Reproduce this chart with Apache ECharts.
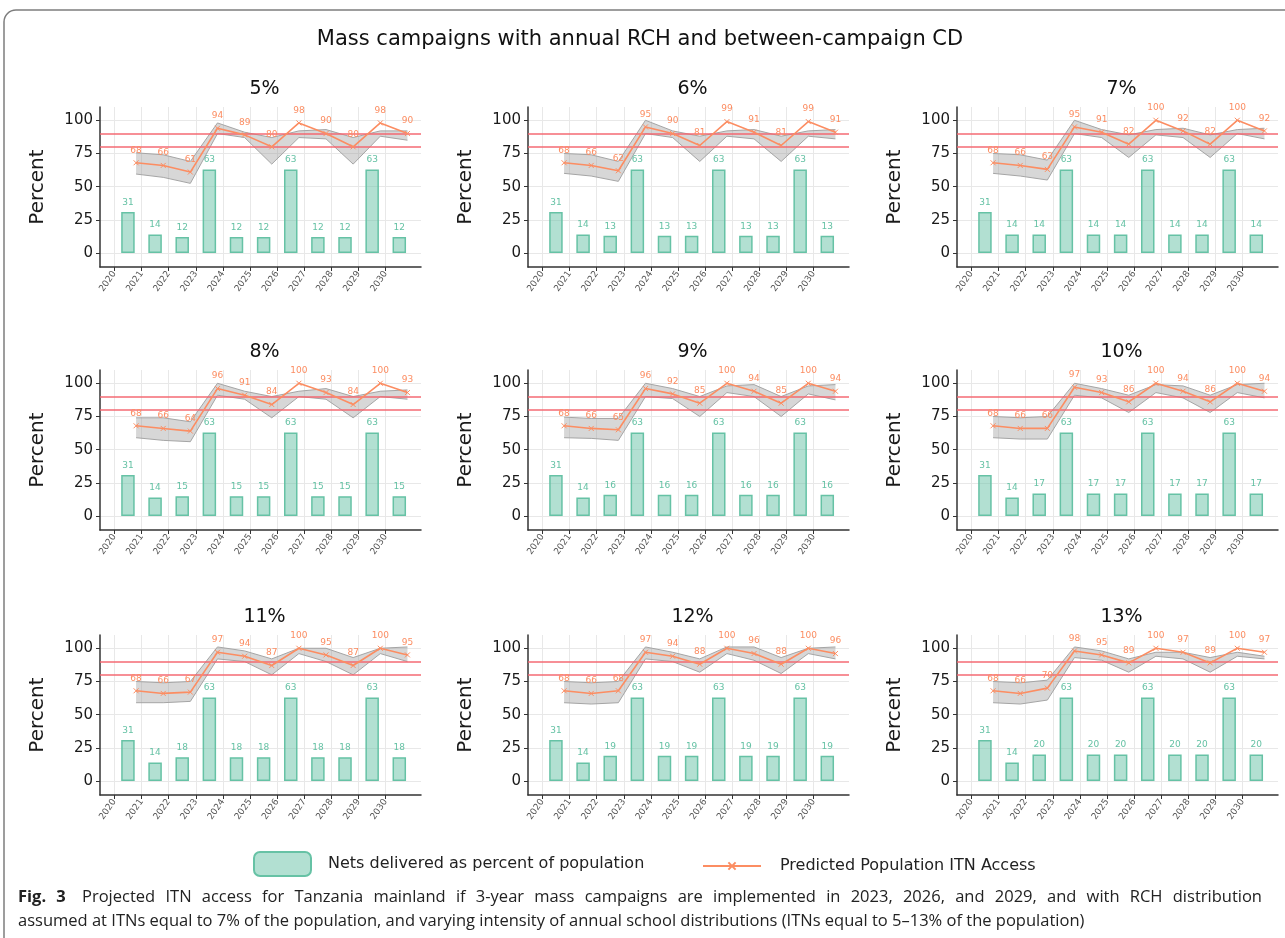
<!DOCTYPE html>
<html>
<head>
<meta charset="utf-8">
<title>Projected ITN access - Tanzania mainland</title>
<script src="https://cdn.jsdelivr.net/npm/echarts@6/dist/echarts.min.js"></script>
<style>
  html, body { margin: 0; padding: 0; background: #fff; }
  #wrap { position: relative; width: 1285px; height: 938px; }
  #chart { width: 1285px; height: 938px; }
  #caption {
    position: absolute; left: 18px; top: 884px; width: 1244px;
    font-family: "Open Sans", sans-serif; font-size: 16.5px; line-height: 24px; color: #222;
  }
  #caption .first { text-align: justify; text-align-last: justify; white-space: nowrap; }
  #caption b { margin-right: 6px; }
</style>
</head>
<body>
<div id="wrap">
  <div id="chart"></div>
  <div id="caption">
    <div class="first"><b>Fig. 3</b> Projected ITN access for Tanzania mainland if 3-year mass campaigns are implemented in 2023, 2026, and 2029, and with RCH distribution</div>
    <div>assumed at ITNs equal to 7% of the population, and varying intensity of annual school distributions (ITNs equal to 5–13% of the population)</div>
  </div>
</div>
<script>
// panel labels (annual school distribution intensity)
const panelNames = ['5%', '6%', '7%', '8%', '9%', '10%', '11%', '12%', '13%'];
const yearTicks = [2020, 2021, 2022, 2023, 2024, 2025, 2026, 2027, 2028, 2029, 2030];
const percentTicks = [0, 25, 50, 75, 100];
const targetLevels = [80, 90];

// x positions (in years) of the bars and of the access estimates
const netsX = [2020.5, 2021.5, 2022.5, 2023.5, 2024.5, 2025.5, 2026.5, 2027.5, 2028.5, 2029.5, 2030.5];
const accessX = [2020.8, 2021.8, 2022.8, 2023.8, 2024.8, 2025.8, 2026.8, 2027.8, 2028.8, 2029.8, 2030.8];

// nets delivered as percent of population, one row per panel
const netsDelivered = [
  [31, 14, 12, 63, 12, 12, 63, 12, 12, 63, 12],
  [31, 14, 13, 63, 13, 13, 63, 13, 13, 63, 13],
  [31, 14, 14, 63, 14, 14, 63, 14, 14, 63, 14],
  [31, 14, 15, 63, 15, 15, 63, 15, 15, 63, 15],
  [31, 14, 16, 63, 16, 16, 63, 16, 16, 63, 16],
  [31, 14, 17, 63, 17, 17, 63, 17, 17, 63, 17],
  [31, 14, 18, 63, 18, 18, 63, 18, 18, 63, 18],
  [31, 14, 19, 63, 19, 19, 63, 19, 19, 63, 19],
  [31, 14, 20, 63, 20, 20, 63, 20, 20, 63, 20]
];

// predicted population ITN access
const itnAccess = [
  [68, 66, 61, 94, 89, 80, 98, 90, 80, 98, 90],
  [68, 66, 62, 95, 90, 81, 99, 91, 81, 99, 91],
  [68, 66, 63, 95, 91, 82, 100, 92, 82, 100, 92],
  [68, 66, 64, 96, 91, 84, 100, 93, 84, 100, 93],
  [68, 66, 65, 96, 92, 85, 100, 94, 85, 100, 94],
  [68, 66, 66, 97, 93, 86, 100, 94, 86, 100, 94],
  [68, 66, 67, 97, 94, 87, 100, 95, 87, 100, 95],
  [68, 66, 68, 97, 94, 88, 100, 96, 88, 100, 96],
  [68, 66, 70, 98, 95, 89, 100, 97, 89, 100, 97]
];

// uncertainty band (lower / upper)
const accessLow = [
  [59.5, 57, 52.5, 90, 87, 67, 87, 86, 67, 88, 85],
  [60, 58, 54, 90, 87, 69, 88, 86, 69, 88, 86],
  [60, 58, 55, 90, 87, 72, 89, 87, 72, 90, 86],
  [59, 57, 56, 91, 88, 74, 90, 88, 74, 90, 88],
  [59, 58.5, 57, 90, 88.5, 75, 93, 90, 75, 92, 87.5],
  [59, 58, 58, 91, 89, 78, 93, 89, 78, 93, 89],
  [59, 59, 60, 92, 90, 80, 96, 90, 80, 96, 90],
  [59, 58, 59, 92, 90, 82, 96, 91, 81, 96, 92],
  [59, 58, 61, 93, 91, 82, 94, 92, 82, 94, 92]
];
const accessHigh = [
  [75.5, 74, 69, 98, 91, 87, 92, 93, 87, 92, 92],
  [75, 74, 69, 100, 92, 88, 92, 93, 88, 92, 93],
  [75, 74, 70, 100, 93, 89, 93, 94, 89, 93, 94],
  [74, 74, 71, 100, 94, 90, 94, 96, 90, 94, 95],
  [74.5, 73.5, 73.5, 100, 96, 90, 98, 99, 90, 98, 99],
  [75, 74, 75, 100, 96, 91, 99, 98, 91, 99, 100],
  [75, 74, 75, 101, 98, 92, 100, 100, 93, 100, 101],
  [75, 74, 75, 101, 97, 92, 101, 101, 93, 100, 101],
  [75, 74, 76, 101, 98, 92, 97, 97, 93, 97, 94]
];

const NETS_NAME = 'Nets delivered as percent of population';
const ACCESS_NAME = 'Predicted Population ITN Access';
const GREEN = '#66c2a5';
const ORANGE = '#fc8d62';
const FONT = 'DejaVu Sans';

const colLeft = [100, 528, 957];
const rowTop = [107, 370, 635];
const plotW = 321;
const plotH = 160;

const grid = [];
const xAxis = [];
const yAxis = [];
const series = [];
const graphic = [];

panelNames.forEach((name, i) => {
  const r = Math.floor(i / 3);
  const c = i % 3;

  grid.push({
    left: colLeft[c], top: rowTop[r], width: plotW, height: plotH,
    containLabel: false, outerBoundsMode: 'none'
  });

  xAxis.push({
    gridIndex: i,
    type: 'value',
    min: 2019.47,
    max: 2031.3,
    axisLine: { show: true, onZero: false, lineStyle: { color: '#333', width: 1.5 } },
    axisTick: { show: true, customValues: yearTicks, length: 4, lineStyle: { color: '#333' } },
    axisLabel: {
      customValues: yearTicks, rotate: 55, fontSize: 9, color: '#555', margin: 5,
      fontFamily: FONT, formatter: v => String(v)
    },
    splitLine: { show: true, lineStyle: { color: '#e8e8e8' } }
  });

  yAxis.push({
    gridIndex: i,
    type: 'value',
    min: -10.5,
    max: 110,
    name: 'Percent',
    nameLocation: 'middle',
    nameGap: 52,
    nameTextStyle: { fontSize: 20, color: '#1a1a1a', fontFamily: FONT },
    axisLine: { show: true, lineStyle: { color: '#333', width: 1.5 } },
    axisTick: { show: true, customValues: percentTicks, length: 4, lineStyle: { color: '#333' } },
    axisLabel: { customValues: percentTicks, fontSize: 15, color: '#1a1a1a', margin: 7, fontFamily: FONT },
    splitLine: { show: true, lineStyle: { color: '#e8e8e8' } }
  });

  series.push({
    name: NETS_NAME,
    type: 'bar',
    xAxisIndex: i, yAxisIndex: i,
    data: netsX.map((x, k) => [x, netsDelivered[i][k]]),
    barWidth: 13.5,
    itemStyle: { color: 'rgba(102,194,165,0.5)', borderColor: GREEN, borderWidth: 1.5 },
    label: { show: true, position: 'top', distance: 5, color: GREEN, fontSize: 9, fontFamily: FONT },
    z: 1,
    markLine: {
      silent: true,
      symbol: 'none',
      label: { show: false },
      lineStyle: { color: 'rgba(244,100,110,0.72)', width: 2, type: 'solid' },
      data: targetLevels.map(v => ({ yAxis: v }))
    }
  });

  // grey uncertainty band drawn as one polygon through the axis scales
  series.push({
    name: 'band-' + i,
    type: 'custom',
    xAxisIndex: i, yAxisIndex: i,
    silent: true,
    z: 2,
    data: accessX.map((x, k) => [x, accessLow[i][k], accessHigh[i][k]]),
    encode: { x: 0, y: [1, 2] },
    renderItem: (params, api) => {
      if (params.dataIndex !== 0) return null;
      const lowPts = accessX.map((x, k) => api.coord([x, accessLow[i][k]]));
      const highPts = accessX.map((x, k) => api.coord([x, accessHigh[i][k]]));
      return {
        type: 'group',
        children: [
          {
            type: 'polygon',
            shape: { points: lowPts.concat(highPts.slice().reverse()) },
            style: { fill: 'rgba(150,150,150,0.38)', stroke: null }
          },
          { type: 'polyline', shape: { points: lowPts }, style: { stroke: '#a5a5a5', lineWidth: 1, fill: null } },
          { type: 'polyline', shape: { points: highPts }, style: { stroke: '#a5a5a5', lineWidth: 1, fill: null } }
        ]
      };
    }
  });

  series.push({
    name: ACCESS_NAME,
    type: 'line',
    xAxisIndex: i, yAxisIndex: i,
    data: accessX.map((x, k) => [x, itnAccess[i][k]]),
    symbol: 'path://M0,0L10,10M10,0L0,10',
    symbolSize: 5,
    lineStyle: { color: ORANGE, width: 1.6 },
    itemStyle: { color: ORANGE, borderColor: ORANGE, borderWidth: 1 },
    label: { show: true, position: 'top', distance: 5, color: ORANGE, fontSize: 9, fontFamily: FONT },
    z: 5
  });

  graphic.push({
    type: 'text',
    x: colLeft[c] + plotW / 2 + 4,
    y: rowTop[r] - 18,
    style: {
      text: name, fill: '#111', font: '19px "DejaVu Sans"',
      textAlign: 'center', textVerticalAlign: 'middle'
    }
  });
});

// figure frame and main title
graphic.push({
  type: 'rect',
  shape: { x: 4, y: 10, width: 1300, height: 950, r: 12 },
  style: { fill: 'none', stroke: '#7d7d7d', lineWidth: 1.5 },
  silent: true
});
graphic.push({
  type: 'text', x: 640, y: 40,
  style: {
    text: 'Mass campaigns with annual RCH and between-campaign CD',
    fill: '#111', font: '21px "DejaVu Sans"', textAlign: 'center', textVerticalAlign: 'middle'
  }
});

const chart = echarts.init(document.getElementById('chart'), null, { renderer: 'canvas' });
chart.setOption({
  animation: false,
  backgroundColor: '#fff',
  grid,
  xAxis,
  yAxis,
  series,
  graphic,
  legend: [
    {
      data: [NETS_NAME],
      left: 248, top: 846,
      itemWidth: 57, itemHeight: 24,
      textStyle: { fontSize: 16, color: '#222', fontFamily: FONT, padding: [0, 0, 0, 12] }
    },
    {
      data: [ACCESS_NAME],
      left: 697, top: 853,
      itemWidth: 58, itemHeight: 9,
      textStyle: { fontSize: 16, color: '#222', fontFamily: FONT, padding: [0, 0, 0, 14] }
    }
  ]
});
</script>
</body>
</html>
